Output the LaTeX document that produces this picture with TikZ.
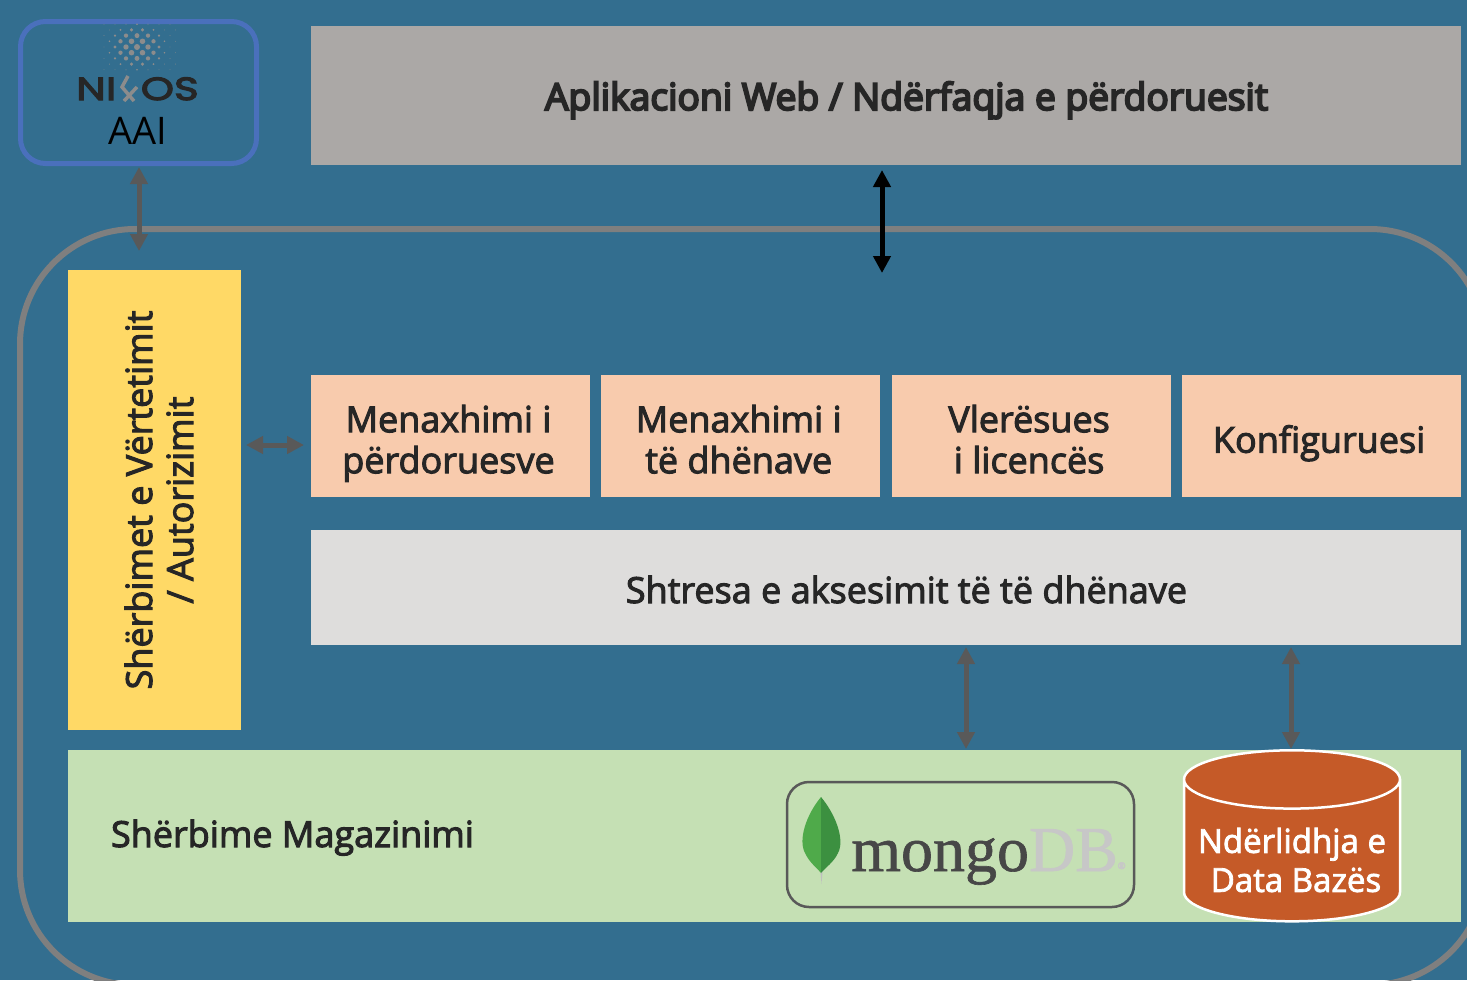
\documentclass[tikz,border=0pt]{standalone}
\usepackage{fontspec}
\setmainfont{Open Sans}
\newfontfamily\logofont[FakeStretch=1.32]{Poppins}
\newfontfamily\mongofont{Liberation Serif}
\newcommand{\semistroke}[1]{\special{pdf:code 2 Tr #1 w}}
\newcommand{\modlines}[2]{\rule{0pt}{46.7pt}\hspace*{-4pt}#1\\\hspace*{-4pt}#2\strut}
\usetikzlibrary{shapes.geometric, arrows.meta, positioning}
\definecolor{bgblue}{HTML}{336E8F}
\definecolor{framegray}{HTML}{7F7F7F}
\definecolor{arrowgray}{HTML}{595959}
\definecolor{aaiblue}{HTML}{4A70BC}
\definecolor{webgray}{HTML}{ABA8A6}
\definecolor{authyellow}{HTML}{FFD966}
\definecolor{modpeach}{HTML}{F8CBAD}
\definecolor{layergray}{HTML}{DEDDDC}
\definecolor{storegreen}{HTML}{C5E0B4}
\definecolor{dbrust}{HTML}{C55A28}
\definecolor{textdark}{HTML}{262626}
\definecolor{leafleft}{HTML}{4FAA4A}
\definecolor{leafright}{HTML}{3C9040}
\tikzstyle{block} = [rectangle, inner sep=0pt, outer sep=0pt, text centered, text=textdark]
\tikzstyle{module} = [block, minimum width=279pt, minimum height=122pt, fill=modpeach,
    align=center, font=\fontsize{36}{41}\selectfont, execute at begin node=\semistroke{1}]
\tikzstyle{arrow} = [line width=5pt, arrowgray, {Triangle[width=17pt,length=17pt]}-{Triangle[width=17pt,length=17pt]}]
\tikzstyle{blackarrow} = [arrow, black]
\begin{document}
\begin{tikzpicture}[x=1pt, y=-1pt]
    \useasboundingbox (0,0) rectangle (1467,980);
    \clip (0,0) rectangle (1467,980);
    \fill [bgblue] (0,0) rectangle (1467,980);

    \node (frame) [draw=framegray, line width=6pt, rounded corners=115pt, minimum width=1465pt,
        minimum height=756pt, outer sep=0pt] at (752.5,607) {};
    \node (aai) [draw=aaiblue, line width=5pt, rounded corners=25pt, minimum width=236pt,
        minimum height=142pt, outer sep=0pt] at (138.5,92.5) {};
    \node (web) [block, minimum width=1150pt, minimum height=139pt, fill=webgray, text height=30pt, text depth=1pt,
        font=\fontsize{37.2}{41}\selectfont, execute at begin node={\semistroke{2}\hspace*{41pt}}] at (886,95.5) {Aplikacioni Web / Ndërfaqja e përdoruesit};
    \node (auth) [block, minimum width=173pt, minimum height=460pt, fill=authyellow] at (154.5,500) {};
    \node (authtext) [block, rotate=90, align=center, font=\fontsize{36}{41}\selectfont,
        execute at begin node=\semistroke{1}] at (159,500) {Shërbimet e Vërtetimit\\/ Autorizimit};

    \node (users) [module] at (450.5,435.5) {\modlines{Menaxhimi i}{përdoruesve}};
    \node (data) [module, right=11.2pt of users] {\modlines{Menaxhimi i}{të dhënave}};
    \node (license) [module, right=11.4pt of data] {\modlines{Vlerësues}{i licencës}};
    \node (config) [module, right=11pt of license] {\rule{0pt}{46.7pt}\hspace*{-4pt}Konfiguruesi\strut};

    \node (access) [block, minimum width=1150pt, minimum height=115pt, fill=layergray, text height=32pt, text depth=1pt,
        font=\fontsize{36}{40}\selectfont, execute at begin node={\semistroke{1}\hspace*{41pt}}] at (886,587.5) {Shtresa e aksesimit të të dhënave};
    \node (store) [block, minimum width=1393pt, minimum height=172pt, fill=storegreen] at (764.5,836) {};
    \node (storetext) [block, font=\fontsize{36}{40}\selectfont, anchor=base west,
        execute at begin node=\semistroke{1}] at (111,847) {Shërbime Magazinimi};

    \node (mongo) [draw=arrowgray, line width=2.5pt, rounded corners=22pt, minimum width=347pt,
        minimum height=125pt, outer sep=0pt] at (960.5,844.5) {};
    \node (mongotext) [anchor=base west, inner sep=0pt, font=\mongofont\fontsize{64}{64}\selectfont,
        execute at begin node=\semistroke{0.6}] at (851,871)
        {\textcolor{black!72}{mongo}\textcolor{black!22}{DB}\raisebox{2pt}{\textcolor{black!22}{\fontsize{10}{10}\selectfont ®}}};
    % leaf
    \fill [white!75!black] (820,866) -- (823,866) -- (821.5,884) -- cycle;
    \fill [leafleft] (821,797) .. controls (806,815) and (798,840) .. (805,853) .. controls (809,862) and (817,868) .. (821,873) -- cycle;
    \fill [leafright] (821,797) .. controls (836,815) and (845,840) .. (838,853) .. controls (834,862) and (825,868) .. (821,873) -- cycle;

    \node (db) [cylinder, shape border rotate=90, aspect=0.31, draw=white, line width=2.5pt, fill=dbrust,
        minimum width=216pt, minimum height=171pt, inner sep=0pt, outer sep=0pt, align=center, text=white,
        font=\fontsize{33}{39}\selectfont, execute at begin node=\semistroke{0.8}] at (1292,851)
        {\rule{0pt}{43pt}Ndërlidhja e\\\hspace*{8pt}Data Bazës};

    % logo
    \foreach \row in {-4,...,4} {
        \foreach \col in {-3,...,3} {
            \pgfmathsetmacro{\dotx}{137+11*(\col+0.5*mod(abs(\row),2))}
            \pgfmathsetmacro{\doty}{47+5.7*\row}
            \pgfmathsetmacro{\dotr}{max(0.4,3*(1-((\dotx-137)/34)^2-((\doty-47)/27)^2))}
            \fill [black!45] (\dotx,\doty) circle (\dotr pt);
        }
    }
    \node (ni) [anchor=base west, inner sep=0pt, text=textdark, font=\logofont\fontsize{32}{32}\selectfont,
        execute at begin node=\semistroke{1.2}] at (76,100) {NI};
    \node (os) [anchor=base east, inner sep=0pt, text=textdark, font=\logofont\fontsize{32}{32}\selectfont,
        execute at begin node=\semistroke{1.2}] at (199,100) {OS};
    \draw [black!45, line width=3.5pt] (128,76) -- (122,87) -- (134,101);
    \draw [black!45, line width=3.5pt] (137,87) -- (124,101);
    \node (aaitext) [block, text=black, font=\fontsize{38}{40}\selectfont] at (137.5,131) {AAI};

    \coordinate (aaiend) at (139,251);
    \coordinate (aaistart) at (139,167);
    \coordinate (webstart) at (882,170);
    \coordinate (webend) at (882,273);
    \coordinate (authstart) at (246,445);
    \coordinate (usersend) at (304,445);
    \coordinate (accessa) at (966,647);
    \coordinate (storea) at (966,749);
    \coordinate (accessb) at (1291,647);
    \coordinate (storeb) at (1291,749);

    \draw [arrow] (aaistart) -- (aaiend);
    \draw [blackarrow] (webstart) -- (webend);
    \draw [arrow] (authstart) -- (usersend);
    \draw [arrow] (accessa) -- (storea);
    \draw [arrow] (accessb) -- (storeb);
\end{tikzpicture}
\end{document}
